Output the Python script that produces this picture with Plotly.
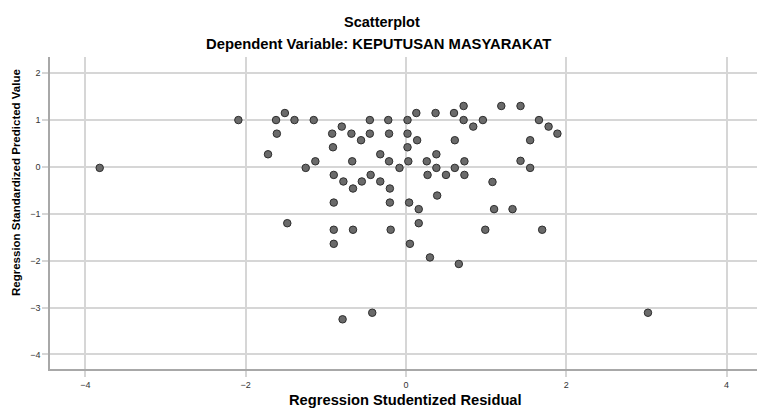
import plotly.graph_objects as go

# Regression Studentized Residual (x) and Regression Standardized Predicted Value (y)
residual = [
    -3.82, -2.09, -1.62, -1.51, -1.39, -1.15, -1.61, -1.72, -1.25, -1.13, -1.48,
    0.72, 1.19, 1.43, 0.13, 0.37, 0.60, -0.45, -0.22, 0.02, 0.72, 0.96, 1.66,
    -0.80, 0.84, 1.78, -0.92, -0.68, -0.45, -0.21, 0.02, 1.89,
    -0.56, 0.14, 0.61, 1.55, -0.91, 0.02, -0.32, 0.38,
    -0.67, -0.21, 0.03, 0.26, 0.73, 1.43,
    -0.08, 0.38, 0.61, 1.55,
    -0.90, -0.44, 0.27, 0.50, 0.73,
    -0.78, -0.55, -0.32, 1.08, -0.66, -0.20, 0.39,
    -0.90, -0.20, 0.04, 0.16, 1.10, 1.33, 0.16,
    -0.90, -0.66, -0.19, 0.99, 1.70,
    -0.90, 0.05, 0.30, 0.66, -0.42, -0.79, 3.02,
]
predicted = [
    -0.02, 1.00, 1.00, 1.15, 1.00, 1.00, 0.71, 0.27, -0.02, 0.12, -1.20,
    1.30, 1.30, 1.30, 1.15, 1.15, 1.15, 1.00, 1.00, 1.00, 1.00, 1.00, 1.00,
    0.86, 0.86, 0.86, 0.71, 0.71, 0.71, 0.71, 0.71, 0.71,
    0.57, 0.57, 0.57, 0.57, 0.42, 0.42, 0.27, 0.27,
    0.12, 0.12, 0.12, 0.12, 0.12, 0.13,
    -0.02, -0.02, -0.02, -0.02,
    -0.17, -0.17, -0.17, -0.17, -0.17,
    -0.31, -0.31, -0.31, -0.32, -0.46, -0.46, -0.61,
    -0.76, -0.76, -0.76, -0.90, -0.90, -0.90, -1.20,
    -1.34, -1.34, -1.34, -1.34, -1.34,
    -1.64, -1.64, -1.93, -2.07, -3.11, -3.25, -3.11,
]
x_ticks = [-4, -2, 0, 2, 4]
y_ticks = [-4, -3, -2, -1, 0, 1, 2]

title_text = "Scatterplot"
subtitle_text = "Dependent Variable: KEPUTUSAN MASYARAKAT"
x_title = "Regression Studentized Residual"
y_title = "Regression Standardized Predicted Value"

FONT = "Liberation Sans, Arial, sans-serif"

fig = go.Figure(
    go.Scatter(
        x=residual, y=predicted, mode="markers",
        marker=dict(size=7.5, color="#6a6a6a", line=dict(color="#2e2e2e", width=1)),
        hoverinfo="x+y",
    )
)

grid_c = "#d6d6d6"
axis_common = dict(
    showgrid=True, gridcolor=grid_c, gridwidth=1.5,
    zeroline=False, showline=True, linecolor="#a8a8a8", linewidth=1.5,
    ticks="outside", ticklen=6, tickwidth=1.5, tickcolor=grid_c,
    tickfont=dict(family=FONT, size=9, color="#333333"),
    mirror=False,
)

PL, PR, PT, PB = 50, 757, 57, 369
pw, ph = PR - PL, PB - PT

def px_x(px):
    return (px - PL) / pw

def px_y(py):
    return (PB - py) / ph

fig.update_layout(
    width=760, height=411,
    margin=dict(l=PL, r=760 - PR, t=PT, b=411 - PB),
    paper_bgcolor="white", plot_bgcolor="white",
    showlegend=False,
    font=dict(family=FONT, color="#000000"),
    xaxis=dict(range=[-4.44, 4.38], tickvals=x_ticks, **axis_common),
    yaxis=dict(range=[-4.31, 2.345], tickvals=y_ticks, **axis_common),
    annotations=[
        dict(text="<b>%s</b>" % title_text, xref="paper", yref="paper",
             x=px_x(382), y=px_y(22), xanchor="center", yanchor="middle",
             showarrow=False, font=dict(family=FONT, size=14.5, color="#000000")),
        dict(text="<b>%s</b>" % subtitle_text, xref="paper", yref="paper",
             x=px_x(378), y=px_y(44), xanchor="center", yanchor="middle",
             showarrow=False, font=dict(family=FONT, size=14.8, color="#000000")),
        dict(text="<b>%s</b>" % x_title, xref="paper", yref="paper",
             x=px_x(406), y=px_y(400), xanchor="center", yanchor="middle",
             showarrow=False, font=dict(family=FONT, size=14.7, color="#000000")),
        dict(text="<b>%s</b>" % y_title, xref="paper", yref="paper",
             x=px_x(16), y=px_y(183), xanchor="center", yanchor="middle",
             textangle=-90,
             showarrow=False, font=dict(family=FONT, size=11.5, color="#000000")),
    ],
)

fig.write_html("out.html", config={"displayModeBar": False},
               post_script="document.body.style.margin='0';")
